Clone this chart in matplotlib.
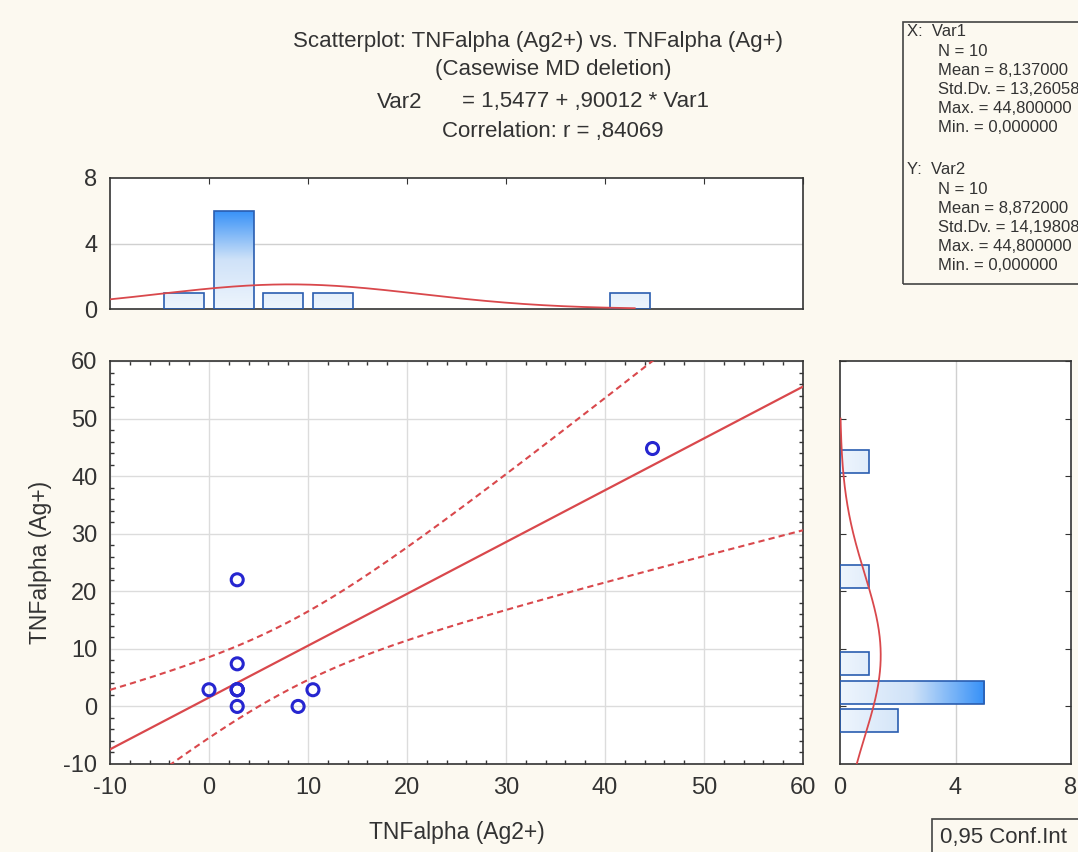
import numpy as np
import matplotlib.pyplot as plt
from matplotlib.colors import LinearSegmentedColormap
from matplotlib.patches import Rectangle
from matplotlib.ticker import MultipleLocator

plt.rcParams['font.family'] = ['Liberation Sans', 'DejaVu Sans']
plt.rcParams['axes.unicode_minus'] = False

# data
var1 = [0.0, 2.85, 2.85, 2.85, 2.85, 2.85, 2.85, 9.0, 10.5, 44.8]
var2 = [2.9, 0.0, 2.9, 2.9, 2.9, 7.4, 22.0, 0.0, 2.9, 44.8]
intercept = 1.5477
slope = 0.90012
bin_edges = [-5, 0, 5, 10, 15, 20, 25, 30, 35, 40, 45, 50]
ticks_main = [-10, 0, 10, 20, 30, 40, 50, 60]
ticks_hist = [0, 4, 8]
stats_x = ["X:  Var1", "N = 10", "Mean = 8,137000", "Std.Dv. = 13,260582",
           "Max. = 44,800000", "Min. = 0,000000"]
stats_y = ["Y:  Var2", "N = 10", "Mean = 8,872000", "Std.Dv. = 14,198081",
           "Max. = 44,800000", "Min. = 0,000000"]

x = np.array(var1)
y = np.array(var2)
n = len(x)
edges = np.array(bin_edges)

def counts_of(v):
    idx = np.searchsorted(edges, v, side='left') - 1
    return np.bincount(idx, minlength=len(edges) - 1)

cx = counts_of(x)
cy = counts_of(y)
centers = (edges[:-1] + edges[1:]) / 2

W, H = 1078, 852
bg = '#fcf9f0'
fig = plt.figure(figsize=(W / 100, H / 100), dpi=100, facecolor=bg)

def fx(px):
    return px / W

def fy(py):
    return 1 - py / H

cmap = LinearSegmentedColormap.from_list('bl', ['#eef5fd', '#cfe2f8', '#3590f7'])
edge_c = '#2a5db0'
red = '#d9484c'
spine_c = '#333333'
tc = '#333333'

ax = fig.add_axes([fx(110), fy(764), fx(803 - 110), (764 - 361) / H])
axt = fig.add_axes([fx(110), fy(309), fx(803 - 110), (309 - 178) / H])
axr = fig.add_axes([fx(840), fy(764), fx(1071 - 840), (764 - 361) / H])

for a in (ax, axt, axr):
    a.set_facecolor('white')
    for s in a.spines.values():
        s.set_color(spine_c)
        s.set_linewidth(1.2)

ax.grid(True, which='major', color='#dcdcdc', linewidth=1.0)
ax.set_axisbelow(True)

# regression line + 95% confidence band
xx = np.linspace(-10, 60, 300)
yy = intercept + slope * xx
resid = y - (intercept + slope * x)
s = np.sqrt(np.sum(resid ** 2) / (n - 2))
sxx = np.sum((x - x.mean()) ** 2)
se = s * np.sqrt(1 / n + (xx - x.mean()) ** 2 / sxx)
t = 2.306
ax.plot(xx, yy, color=red, lw=1.6, zorder=3)
ax.plot(xx, yy + t * se, color=red, lw=1.5, ls=(0, (3, 2)), zorder=3)
ax.plot(xx, yy - t * se, color=red, lw=1.5, ls=(0, (3, 2)), zorder=3)
ax.scatter(x, y, s=75, facecolors='none', edgecolors='#2626d0', linewidths=2.2, zorder=4)
ax.set_xlim(-10, 60)
ax.set_ylim(-10, 60)
ax.set_xticks(ticks_main)
ax.set_yticks(ticks_main)
ax.xaxis.set_minor_locator(MultipleLocator(2))
ax.yaxis.set_minor_locator(MultipleLocator(2))
ax.tick_params(which='major', labelsize=17, length=0, pad=9, labelcolor=tc)
ax.tick_params(which='minor', direction='in', length=3, width=1, color=spine_c,
               top=True, right=True)
ax.set_xlabel('TNFalpha (Ag2+)', fontsize=16.5, labelpad=16, color=tc)
ax.set_ylabel('TNFalpha (Ag+)', fontsize=16.5, labelpad=8, color=tc)

# top histogram
grad_v = np.linspace(0, 1, 256).reshape(-1, 1)
for c, k in zip(centers, cx):
    if k == 0:
        continue
    r = Rectangle((c - 2, 0), 4, k, facecolor='none', edgecolor=edge_c, lw=1.2, zorder=3)
    axt.add_patch(r)
    im = axt.imshow(grad_v, extent=(c - 2, c + 2, 0, cx.max()), origin='lower',
                    cmap=cmap, aspect='auto', zorder=2)
    im.set_clip_path(r)
xs = np.linspace(-10, 43, 300)
pdf_x = n * 5 / (x.std(ddof=1) * np.sqrt(2 * np.pi)) * np.exp(-0.5 * ((xs - x.mean()) / x.std(ddof=1)) ** 2)
axt.plot(xs, pdf_x, color=red, lw=1.3, zorder=4)
axt.set_xlim(-10, 60)
axt.set_ylim(0, 8)
axt.set_yticks(ticks_hist)
axt.set_xticks(ticks_main[1:])
axt.axhline(4, color='#d0d0d0', lw=1, zorder=1)
axt.tick_params(axis='x', top=True, bottom=False, direction='in', length=4,
                labelbottom=False, colors=spine_c)
axt.tick_params(axis='y', labelsize=17, length=0, pad=9, labelcolor=tc)

# right histogram
grad_h = np.linspace(0, 1, 256).reshape(1, -1)
for c, k in zip(centers, cy):
    if k == 0:
        continue
    r = Rectangle((0, c - 2), k, 4, facecolor='none', edgecolor=edge_c, lw=1.2, zorder=3)
    axr.add_patch(r)
    im = axr.imshow(grad_h, extent=(0, cy.max(), c - 2, c + 2), origin='lower',
                    cmap=cmap, aspect='auto', zorder=2)
    im.set_clip_path(r)
ys = np.linspace(-10, 50, 300)
pdf_y = n * 5 / (y.std(ddof=1) * np.sqrt(2 * np.pi)) * np.exp(-0.5 * ((ys - y.mean()) / y.std(ddof=1)) ** 2)
axr.plot(pdf_y, ys, color=red, lw=1.3, zorder=4)
axr.set_xlim(0, 8)
axr.set_ylim(-10, 60)
axr.set_xticks(ticks_hist)
axr.set_yticks(ticks_main[1:])
axr.axvline(4, color='#d0d0d0', lw=1, zorder=1)
axr.tick_params(axis='y', left=True, right=True, direction='in', length=4,
                labelleft=False, colors=spine_c)
axr.tick_params(axis='x', labelsize=17, length=0, pad=9, labelcolor=tc)

# titles
fig.text(fx(538), fy(42), 'Scatterplot: TNFalpha (Ag2+) vs. TNFalpha (Ag+)',
         ha='center', va='center', fontsize=16, color=tc)
fig.text(fx(553), fy(70), '(Casewise MD deletion)', ha='center', va='center', fontsize=16, color=tc)
fig.text(fx(377), fy(102), 'Var2', ha='left', va='center', fontsize=16, color=tc)
fig.text(fx(462), fy(102), '= 1,5477 + ,90012 * Var1', ha='left', va='center', fontsize=16, color=tc)
fig.text(fx(553), fy(132), 'Correlation: r = ,84069', ha='center', va='center', fontsize=16, color=tc)

# stats box
fig.patches.append(Rectangle((fx(903), fy(284)), fx(200), (284 - 22) / H, transform=fig.transFigure,
                             facecolor='none', edgecolor='#444444', lw=1.2))
for block, top in ((stats_x, 32), (stats_y, 170)):
    for i, line in enumerate(block):
        xpos = 907 if i == 0 else 938
        fig.text(fx(xpos), fy(top + 19.2 * i), line, ha='left', va='center', fontsize=12, color=tc)

# conf int box
fig.patches.append(Rectangle((fx(932), fy(880)), fx(200), (880 - 819) / H, transform=fig.transFigure,
                             facecolor='none', edgecolor='#444444', lw=1.2))
fig.text(fx(940), fy(838), '0,95 Conf.Int', ha='left', va='center', fontsize=16, color=tc)

fig.savefig('out.png', dpi=100, facecolor=bg)
